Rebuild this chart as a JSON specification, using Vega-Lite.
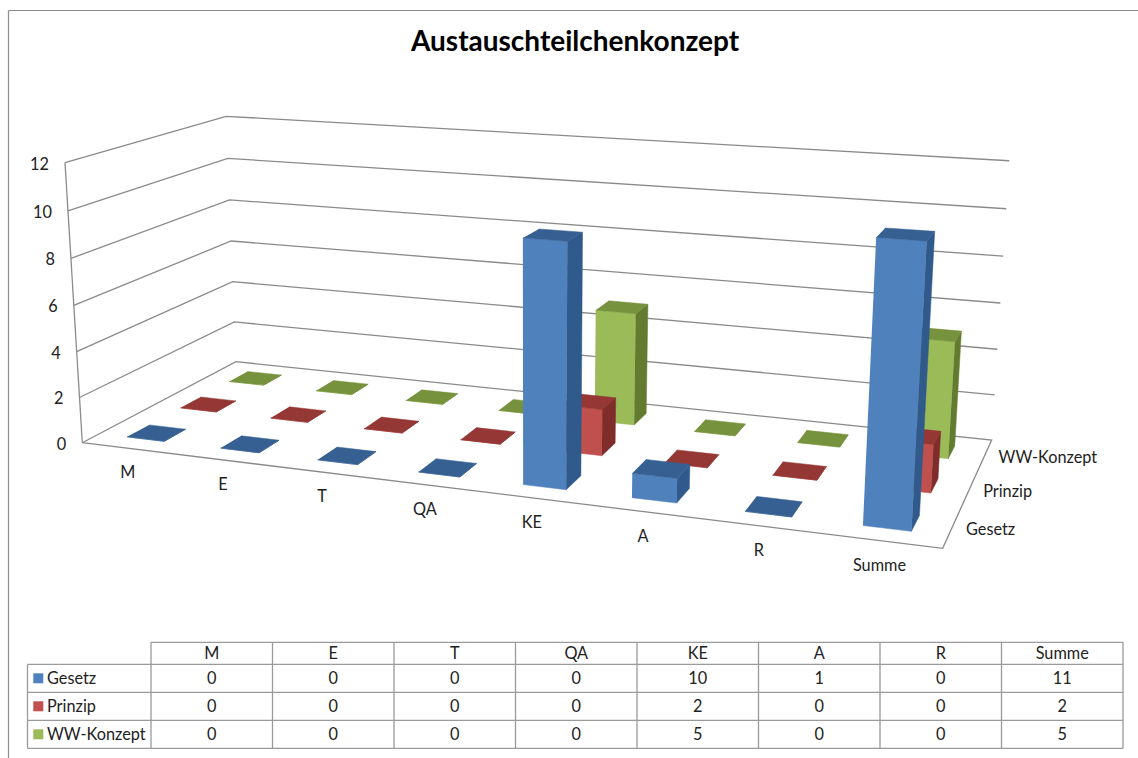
{
  "$schema": "https://vega.github.io/schema/vega-lite/v6.json",
  "width": 1138,
  "height": 758,
  "autosize": {"type": "fit", "contains": "padding"},
  "padding": 0,
  "background": "white",
  "config": {"view": {"stroke": null}, "text": {"font": "Lato", "fontSize": 16.3, "color": "#222222"}},
  "datasets": {
    "bars": [
      {"series": "WW-Konzept", "cat": "M", "value": 0},
      {"series": "WW-Konzept", "cat": "E", "value": 0},
      {"series": "WW-Konzept", "cat": "T", "value": 0},
      {"series": "WW-Konzept", "cat": "QA", "value": 0},
      {"series": "WW-Konzept", "cat": "KE", "value": 5},
      {"series": "WW-Konzept", "cat": "A", "value": 0},
      {"series": "WW-Konzept", "cat": "R", "value": 0},
      {"series": "WW-Konzept", "cat": "Summe", "value": 5},
      {"series": "Prinzip", "cat": "M", "value": 0},
      {"series": "Prinzip", "cat": "E", "value": 0},
      {"series": "Prinzip", "cat": "T", "value": 0},
      {"series": "Prinzip", "cat": "QA", "value": 0},
      {"series": "Prinzip", "cat": "KE", "value": 2},
      {"series": "Prinzip", "cat": "A", "value": 0},
      {"series": "Prinzip", "cat": "R", "value": 0},
      {"series": "Prinzip", "cat": "Summe", "value": 2},
      {"series": "Gesetz", "cat": "M", "value": 0},
      {"series": "Gesetz", "cat": "E", "value": 0},
      {"series": "Gesetz", "cat": "T", "value": 0},
      {"series": "Gesetz", "cat": "QA", "value": 0},
      {"series": "Gesetz", "cat": "KE", "value": 10},
      {"series": "Gesetz", "cat": "A", "value": 1},
      {"series": "Gesetz", "cat": "R", "value": 0},
      {"series": "Gesetz", "cat": "Summe", "value": 11}
    ],
    "skeleton": [
      {"line": "floor", "k": 0, "s": 0, "t": 0, "z": 0},
      {"line": "floor", "k": 1, "s": 1, "t": 0, "z": 0},
      {"line": "floor", "k": 2, "s": 1, "t": 1, "z": 0},
      {"line": "floor", "k": 3, "s": 0, "t": 1, "z": 0},
      {"line": "floor", "k": 4, "s": 0, "t": 0, "z": 0},
      {"line": "edge", "k": 0, "s": 0, "t": 0, "z": 0},
      {"line": "edge", "k": 1, "s": 0, "t": 0, "z": 12},
      {"line": "grid2", "k": 0, "s": 0, "t": 0, "z": 2},
      {"line": "grid2", "k": 1, "s": 0, "t": 1, "z": 2},
      {"line": "grid2", "k": 2, "s": 1, "t": 1, "z": 2},
      {"line": "grid4", "k": 0, "s": 0, "t": 0, "z": 4},
      {"line": "grid4", "k": 1, "s": 0, "t": 1, "z": 4},
      {"line": "grid4", "k": 2, "s": 1, "t": 1, "z": 4},
      {"line": "grid6", "k": 0, "s": 0, "t": 0, "z": 6},
      {"line": "grid6", "k": 1, "s": 0, "t": 1, "z": 6},
      {"line": "grid6", "k": 2, "s": 1, "t": 1, "z": 6},
      {"line": "grid8", "k": 0, "s": 0, "t": 0, "z": 8},
      {"line": "grid8", "k": 1, "s": 0, "t": 1, "z": 8},
      {"line": "grid8", "k": 2, "s": 1, "t": 1, "z": 8},
      {"line": "grid10", "k": 0, "s": 0, "t": 0, "z": 10},
      {"line": "grid10", "k": 1, "s": 0, "t": 1, "z": 10},
      {"line": "grid10", "k": 2, "s": 1, "t": 1, "z": 10},
      {"line": "grid12", "k": 0, "s": 0, "t": 0, "z": 12},
      {"line": "grid12", "k": 1, "s": 0, "t": 1, "z": 12},
      {"line": "grid12", "k": 2, "s": 1, "t": 1, "z": 12}
    ],
    "tableLines": [
      {"kind": "row", "n": 0},
      {"kind": "row", "n": 1},
      {"kind": "row", "n": 2},
      {"kind": "row", "n": 3},
      {"kind": "head", "n": 0},
      {"kind": "col", "n": 0},
      {"kind": "col", "n": 1},
      {"kind": "col", "n": 2},
      {"kind": "col", "n": 3},
      {"kind": "col", "n": 4},
      {"kind": "col", "n": 5},
      {"kind": "col", "n": 6},
      {"kind": "col", "n": 7},
      {"kind": "col", "n": 8},
      {"kind": "side", "n": 0}
    ]
  },
  "encoding": {
    "x": {"field": "px", "type": "quantitative", "axis": null, "scale": {"domain": [0, 1138], "range": [0, 1138]}},
    "y": {"field": "py", "type": "quantitative", "axis": null, "scale": {"domain": [0, 758], "range": [0, 758]}}
  },
  "layer": [
    {
      "data": {"values": [{"edge": "top"}, {"edge": "left"}]},
      "transform": [
        {"calculate": "8.5", "as": "px"},
        {"calculate": "10.5", "as": "py"},
        {"calculate": "datum.edge === 'top' ? 1138 : 8.5", "as": "px2"},
        {"calculate": "datum.edge === 'top' ? 10.5 : 758", "as": "py2"}
      ],
      "mark": {"type": "rule", "color": "#8c8c8c", "strokeWidth": 1.2},
      "encoding": {"x2": {"field": "px2"}, "y2": {"field": "py2"}}
    },
    {
      "data": {"values": [{"title": "Austauschteilchenkonzept"}]},
      "transform": [
        {"calculate": "575", "as": "px"},
        {"calculate": "43", "as": "py"}
      ],
      "mark": {"type": "text", "font": "Lato", "fontWeight": "bold", "fontSize": 28, "color": "#000000", "align": "center", "baseline": "middle"},
      "encoding": {"text": {"field": "title"}}
    },
    {
      "data": {"name": "skeleton"},
      "transform": [
        {"calculate": "datum.z / 12", "as": "zn"},
        {"calculate": "1 - 0.14511 * datum.s + 0.14795 * datum.t - 0.037 * datum.zn", "as": "w"},
        {"calculate": "(723.6 * datum.s + 188.6 * datum.t - 19.7 * datum.zn + 82.3) / datum.w", "as": "px"},
        {"calculate": "(26.04 * datum.s - 27.49 * datum.t - 286 * datum.zn + 442.7) / datum.w", "as": "py"}
      ],
      "layer": [
        {
          "mark": {"type": "line", "color": "#8a8a8a", "strokeWidth": 1.3},
          "encoding": {
            "detail": {"field": "line"},
            "order": {"field": "k", "type": "quantitative"}
          }
        },
        {
          "transform": [{"filter": "datum.k === 0 && datum.line !== 'edge'"}],
          "mark": {"type": "text", "align": "right", "baseline": "middle", "dx": -16, "dy": 2},
          "encoding": {"text": {"field": "z", "type": "quantitative"}}
        }
      ]
    },
    {
      "data": {"name": "bars"},
      "transform": [
        {"calculate": "indexof(['M','E','T','QA','KE','A','R','Summe'], datum.cat)", "as": "i"},
        {"calculate": "indexof(['Gesetz','Prinzip','WW-Konzept'], datum.series)", "as": "j"},
        {"calculate": "[{f:'front',k:0,a:0,b:0,c:0},{f:'front',k:1,a:1,b:0,c:0},{f:'front',k:2,a:1,b:0,c:1},{f:'front',k:3,a:0,b:0,c:1},{f:'side',k:0,a:1,b:0,c:0},{f:'side',k:1,a:1,b:1,c:0},{f:'side',k:2,a:1,b:1,c:1},{f:'side',k:3,a:1,b:0,c:1},{f:'top',k:0,a:0,b:0,c:1},{f:'top',k:1,a:1,b:0,c:1},{f:'top',k:2,a:1,b:1,c:1},{f:'top',k:3,a:0,b:1,c:1}]", "as": "corner"},
        {"flatten": ["corner"]},
        {"calculate": "datum.corner.k", "as": "k"},
        {"calculate": "(datum.i + 0.3 + 0.4 * datum.corner.a) / 8", "as": "s"},
        {"calculate": "(datum.j + 0.3 + 0.4 * datum.corner.b) / 3", "as": "t"},
        {"calculate": "datum.value * datum.corner.c / 12", "as": "zn"},
        {"calculate": "1 - 0.14511 * datum.s + 0.14795 * datum.t - 0.037 * datum.zn", "as": "w"},
        {"calculate": "(723.6 * datum.s + 188.6 * datum.t - 19.7 * datum.zn + 82.3) / datum.w", "as": "px"},
        {"calculate": "(26.04 * datum.s - 27.49 * datum.t - 286 * datum.zn + 442.7) / datum.w", "as": "py"},
        {"calculate": "datum.series + ' ' + datum.corner.f", "as": "shade"},
        {"calculate": "datum.cat + ' ' + datum.shade", "as": "faceId"}
      ],
      "encoding": {
        "detail": {"field": "faceId"},
        "order": {"field": "k", "type": "quantitative"},
        "fill": {
          "field": "shade",
          "type": "nominal",
          "legend": null,
          "scale": {
            "domain": ["Gesetz front", "Gesetz side", "Gesetz top", "Prinzip front", "Prinzip side", "Prinzip top", "WW-Konzept front", "WW-Konzept side", "WW-Konzept top"],
            "range": ["#4f81bd", "#305a8c", "#376092", "#c0504d", "#7f2c2a", "#953735", "#9bbb59", "#627b2f", "#76923c"]
          }
        },
        "stroke": {
          "field": "shade",
          "type": "nominal",
          "legend": null,
          "scale": {
            "domain": ["Gesetz front", "Gesetz side", "Gesetz top", "Prinzip front", "Prinzip side", "Prinzip top", "WW-Konzept front", "WW-Konzept side", "WW-Konzept top"],
            "range": ["#4f81bd", "#305a8c", "#376092", "#c0504d", "#7f2c2a", "#953735", "#9bbb59", "#627b2f", "#76923c"]
          }
        }
      },
      "layer": [
        {
          "transform": [{"filter": "datum.series === 'WW-Konzept'"}],
          "mark": {"type": "line", "strokeWidth": 0.5}
        },
        {
          "transform": [{"filter": "datum.series === 'Prinzip'"}],
          "mark": {"type": "line", "strokeWidth": 0.5}
        },
        {
          "transform": [{"filter": "datum.series === 'Gesetz'"}],
          "mark": {"type": "line", "strokeWidth": 0.5}
        }
      ]
    },
    {
      "data": {"name": "bars"},
      "transform": [
        {"filter": "datum.series === 'Gesetz'"},
        {"calculate": "indexof(['M','E','T','QA','KE','A','R','Summe'], datum.cat)", "as": "i"},
        {"calculate": "(datum.i + 0.5) / 8", "as": "s"},
        {"calculate": "1 - 0.14511 * datum.s", "as": "w"},
        {"calculate": "(723.6 * datum.s + 82.3) / datum.w", "as": "px"},
        {"calculate": "(26.04 * datum.s + 442.7) / datum.w", "as": "py"}
      ],
      "mark": {"type": "text", "align": "center", "baseline": "middle", "dy": 25, "dx": -1},
      "encoding": {"text": {"field": "cat"}}
    },
    {
      "data": {"name": "bars"},
      "transform": [
        {"filter": "datum.cat === 'M'"},
        {"calculate": "indexof(['Gesetz','Prinzip','WW-Konzept'], datum.series)", "as": "j"},
        {"calculate": "(datum.j + 0.5) / 3", "as": "t"},
        {"calculate": "1 - 0.14511 + 0.14795 * datum.t", "as": "w"},
        {"calculate": "(723.6 + 188.6 * datum.t + 82.3) / datum.w", "as": "px"},
        {"calculate": "(26.04 - 27.49 * datum.t + 442.7) / datum.w", "as": "py"}
      ],
      "mark": {"type": "text", "align": "left", "baseline": "middle", "dx": 14, "dy": 2},
      "encoding": {"text": {"field": "series"}}
    },
    {
      "data": {"name": "tableLines"},
      "transform": [
        {"calculate": "datum.kind === 'row' ? 27.5 : datum.kind === 'head' ? 151 : datum.kind === 'side' ? 27.5 : 151 + 121.5 * datum.n", "as": "px"},
        {"calculate": "datum.kind === 'row' || datum.kind === 'head' ? 1123 : datum.px", "as": "px2"},
        {"calculate": "datum.kind === 'row' ? 664.3 + 28 * datum.n : datum.kind === 'side' ? 664.3 : 642.3", "as": "py"},
        {"calculate": "datum.kind === 'row' || datum.kind === 'head' ? datum.py : 748.3", "as": "py2"}
      ],
      "mark": {"type": "rule", "color": "#9a9a9a", "strokeWidth": 1.3},
      "encoding": {"x2": {"field": "px2"}, "y2": {"field": "py2"}}
    },
    {
      "data": {"name": "bars"},
      "transform": [
        {"calculate": "indexof(['M','E','T','QA','KE','A','R','Summe'], datum.cat)", "as": "i"},
        {"calculate": "indexof(['Gesetz','Prinzip','WW-Konzept'], datum.series)", "as": "j"},
        {"calculate": "151 + 121.5 * (datum.i + 0.5)", "as": "px"},
        {"calculate": "664.3 + 28 * (datum.j + 0.5)", "as": "py"}
      ],
      "layer": [
        {
          "mark": {"type": "text", "align": "center", "baseline": "middle", "dy": 1},
          "encoding": {"text": {"field": "value", "type": "quantitative"}}
        },
        {
          "transform": [
            {"filter": "datum.series === 'Gesetz'"},
            {"calculate": "653", "as": "py"}
          ],
          "mark": {"type": "text", "align": "center", "baseline": "middle", "dy": 1},
          "encoding": {"text": {"field": "cat"}}
        },
        {
          "transform": [
            {"filter": "datum.cat === 'M'"},
            {"calculate": "47", "as": "px"}
          ],
          "mark": {"type": "text", "align": "left", "baseline": "middle", "dy": 1},
          "encoding": {"text": {"field": "series"}}
        },
        {
          "transform": [
            {"filter": "datum.cat === 'M'"},
            {"calculate": "38.3", "as": "px"}
          ],
          "mark": {"type": "point", "shape": "square", "filled": true, "size": 100, "opacity": 1},
          "encoding": {
            "color": {
              "field": "series",
              "type": "nominal",
              "legend": null,
              "scale": {"domain": ["Gesetz", "Prinzip", "WW-Konzept"], "range": ["#4f81bd", "#c0504d", "#9bbb59"]}
            }
          }
        }
      ]
    }
  ]
}
